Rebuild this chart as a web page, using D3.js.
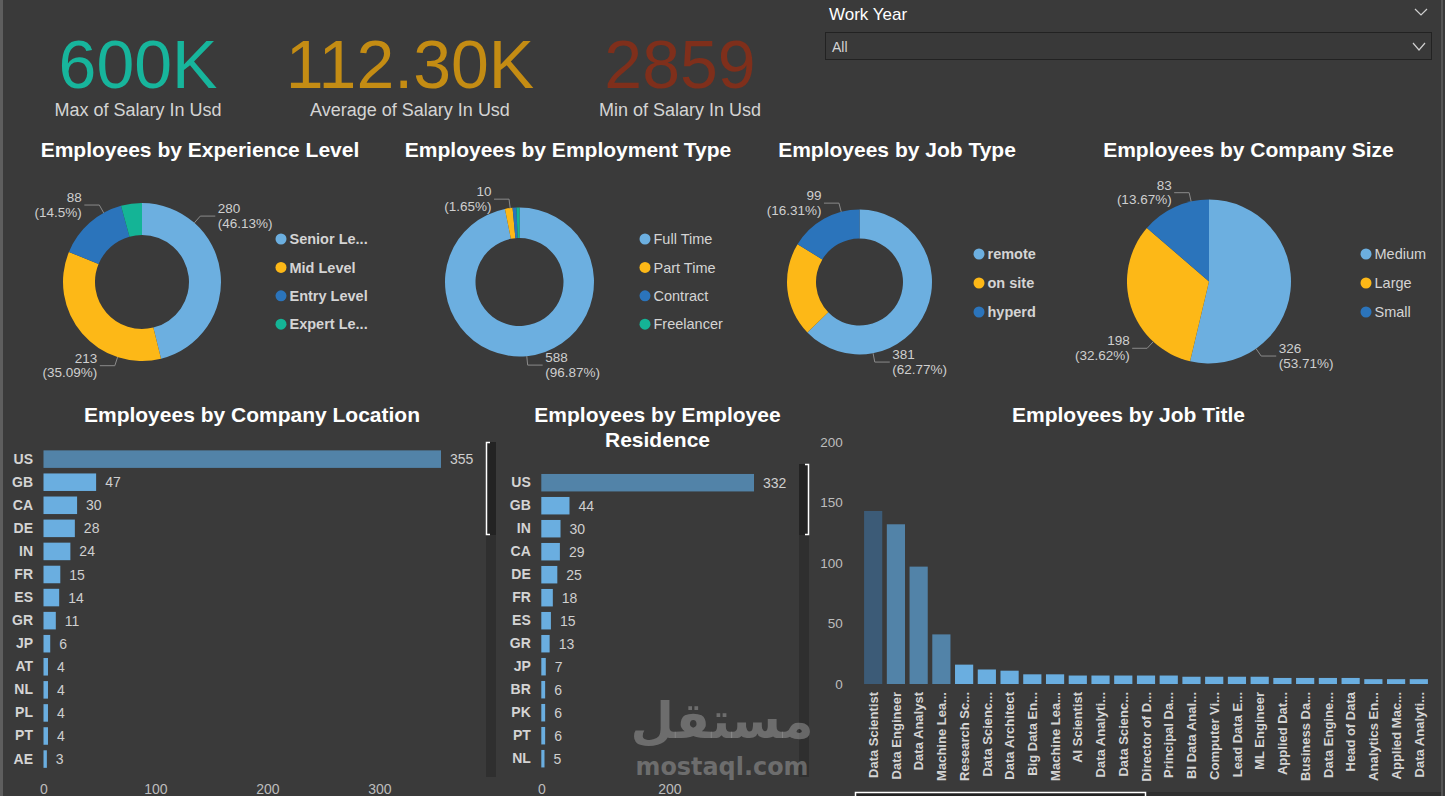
<!DOCTYPE html>
<html>
<head>
<meta charset="utf-8">
<script src="https://cdn.jsdelivr.net/npm/d3@7"></script>
<style>
  body { margin: 0; background: #3a3a3a; overflow: hidden; }
  svg { display: block; font-family: "Liberation Sans", Arial, sans-serif; }
</style>
</head>
<body>
<svg id="dash" width="1445" height="796"></svg>
<script>
// ---- data ----
const kpiValues = ["600K", "112.30K", "2859"];
const kpiLabels = ["Max of Salary In Usd", "Average of Salary In Usd", "Min of Salary In Usd"];

const expLevels = ["Senior Le...", "Mid Level", "Entry Level", "Expert Le..."];
const expCounts = [280, 213, 88, 26];

const empTypes = ["Full Time", "Part Time", "Contract", "Freelancer"];
const empCounts = [588, 10, 5, 4];

const jobTypes = ["remote", "on site", "hyperd"];
const jobTypeCounts = [381, 127, 99];

const companySizes = ["Medium", "Large", "Small"];
const companySizeCounts = [326, 198, 83];

const locCountries = ["US", "GB", "CA", "DE", "IN", "FR", "ES", "GR", "JP", "AT", "NL", "PL", "PT", "AE"];
const locCounts = [355, 47, 30, 28, 24, 15, 14, 11, 6, 4, 4, 4, 4, 3];
const locTicks = [0, 100, 200, 300];

const resCountries = ["US", "GB", "IN", "CA", "DE", "FR", "ES", "GR", "JP", "BR", "PK", "PT", "NL"];
const resCounts = [332, 44, 30, 29, 25, 18, 15, 13, 7, 6, 6, 6, 5];
const resTicks = [0, 200];

const jobTitles = ["Data Scientist", "Data Engineer", "Data Analyst", "Machine Lea...", "Research Sc...",
  "Data Scienc...", "Data Architect", "Big Data En...", "Machine Lea...", "AI Scientist",
  "Data Analyti...", "Data Scienc...", "Director of D...", "Principal Da...", "BI Data Anal...",
  "Computer Vi...", "Lead Data E...", "ML Engineer", "Applied Dat...", "Business Da...",
  "Data Engine...", "Head of Data", "Analytics En...", "Applied Mac...", "Data Analyti..."];
const jobTitleCounts = [143, 132, 97, 41, 16, 12, 11, 8, 8, 7, 7, 7, 7, 7, 6, 6, 6, 6, 5, 5, 5, 5, 4, 4, 4];
const jobTicks = [0, 50, 100, 150, 200];

// ---- style ----
const sliceColors = ["#6cafe0", "#fdb817", "#2b74bb", "#14b496"];
const barLight = "#6aaee0", barMid = "#5283a8", barDark = "#3c5b77";
const textGray = "#d4d4d4";

const svg = d3.select("#dash");

// frame
svg.append("rect").attr("x", 0).attr("y", 0).attr("width", 3).attr("height", 796).attr("fill", "#5e5e5e");
svg.append("rect").attr("x", 1441).attr("y", 0).attr("width", 2).attr("height", 796).attr("fill", "#555");

// ---- KPI cards ----
const kpiX = [138, 410, 680];
const kpiColors = ["#17b59c", "#c48c13", "#7f2f1b"];
kpiValues.forEach(function(v, i) {
  svg.append("text").attr("x", kpiX[i]).attr("y", 88).attr("text-anchor", "middle")
    .style("font-size", "68px").attr("fill", kpiColors[i]).text(v);
  svg.append("text").attr("x", kpiX[i]).attr("y", 116).attr("text-anchor", "middle")
    .style("font-size", "18px").attr("fill", textGray).text(kpiLabels[i]);
});

// ---- slicer ----
function chevron(x, y, w, h) {
  svg.append("path").attr("d", "M" + x + "," + y + "L" + (x + w / 2) + "," + (y + h) + "L" + (x + w) + "," + y)
    .attr("fill", "none").attr("stroke", "#cfcfcf").attr("stroke-width", 1.2);
}
svg.append("text").attr("x", 829).attr("y", 19.5).style("font-size", "17px").attr("fill", "#fff").text("Work Year");
chevron(1415, 9, 12, 6);
svg.append("rect").attr("x", 825.5).attr("y", 32.5).attr("width", 606).attr("height", 27)
  .attr("fill", "#393939").attr("stroke", "#222");
svg.append("text").attr("x", 832).attr("y", 52).style("font-size", "14px").attr("fill", textGray).text("All");
chevron(1413, 43, 12, 7);

// ---- titles ----
function title(txt, x, y) {
  svg.append("text").attr("x", x).attr("y", y).attr("text-anchor", "middle")
    .style("font-size", "21px").style("font-weight", "bold").attr("fill", "#fff").text(txt);
}

// ---- pies / donuts ----
const pies = [
  { title: "Employees by Experience Level", tx: 200, cx: 142, cy: 282, r: 79, inner: 47,
    cats: expLevels, vals: expCounts, labels: [[0, 41.5], [1, 198], [2, 331]],
    lx: 281, ly: 239, lstep: 28.4, bold: true },
  { title: "Employees by Employment Type", tx: 568, cx: 519.5, cy: 282, r: 74.5, inner: 44,
    cats: empTypes, vals: empCounts, labels: [[0, 174.4], [1, 352.8]],
    lx: 645, ly: 239, lstep: 28.4, bold: false },
  { title: "Employees by Job Type", tx: 897, cx: 859.5, cy: 282, r: 72.5, inner: 43.5,
    cats: jobTypes, vals: jobTypeCounts, labels: [[0, 169.2], [2, 345.4]],
    lx: 979, ly: 254, lstep: 29, bold: true },
  { title: "Employees by Company Size", tx: 1248.5, cx: 1209, cy: 281.5, r: 82, inner: 0,
    cats: companySizes, vals: companySizeCounts, labels: [[0, 145], [1, 222.8], [2, 347.4]],
    lx: 1366, ly: 254, lstep: 29, bold: false }
];

function pct(v, total) {
  return "(" + parseFloat((v / total * 100).toFixed(2)) + "%)";
}

pies.forEach(function(p) {
  title(p.title, p.tx, 157);
  const total = d3.sum(p.vals);
  const arcs = d3.pie().sort(null).value(function(d) { return d; })(p.vals);
  const arc = d3.arc().innerRadius(p.inner).outerRadius(p.r);
  const g = svg.append("g").attr("transform", "translate(" + p.cx + "," + p.cy + ")");
  g.selectAll("path").data(arcs).enter().append("path")
    .attr("d", arc)
    .attr("fill", function(d, i) { return sliceColors[i]; });

  p.labels.forEach(function(l) {
    const i = l[0], a = l[1] * Math.PI / 180;
    const sx = Math.sin(a), sy = -Math.cos(a);
    const p0 = [p.r * sx, p.r * sy], p1 = [(p.r + 9) * sx, (p.r + 9) * sy];
    const dir = sx >= 0 ? 1 : -1;
    const p2 = [p1[0] + dir * 15, p1[1]];
    g.append("path").attr("d", "M" + p0 + "L" + p1 + "L" + p2)
      .attr("fill", "none").attr("stroke", "#8a8a8a").attr("stroke-width", 1);
    const t = g.append("text").attr("text-anchor", dir > 0 ? "start" : "end")
      .style("font-size", "13.5px").attr("fill", "#cfcfcf");
    t.append("tspan").attr("x", p2[0] + dir * 2.5).attr("y", p2[1] - 3).text(p.vals[i]);
    t.append("tspan").attr("x", p2[0] + dir * 2.5).attr("y", p2[1] + 11.5).text(pct(p.vals[i], total));
  });

  p.cats.forEach(function(c, i) {
    const y = p.ly + i * p.lstep;
    svg.append("circle").attr("cx", p.lx).attr("cy", y).attr("r", 5.5).attr("fill", sliceColors[i]);
    svg.append("text").attr("x", p.lx + 8.5).attr("y", y).attr("dy", "0.36em")
      .style("font-size", "14.5px").style("font-weight", p.bold ? "bold" : "normal")
      .attr("fill", textGray).text(c);
  });
});

// ---- horizontal bar charts ----
function hbar(o) {
  const y = d3.scaleBand().domain(o.cats).range([o.y0, o.y1]).paddingInner(0.24).paddingOuter(0.12);
  const x = d3.scaleLinear().domain([0, o.vmax]).range([o.x0, o.x1]);
  const color = d3.scaleThreshold().domain([100]).range([barLight, barMid]);
  const g = svg.append("g");
  g.selectAll("rect").data(o.vals).enter().append("rect")
    .attr("x", x(0)).attr("y", function(d, i) { return y(o.cats[i]); })
    .attr("width", function(d) { return x(d) - x(0); })
    .attr("height", y.bandwidth())
    .attr("fill", function(d) { return color(d); });
  g.selectAll(".val").data(o.vals).enter().append("text")
    .attr("x", function(d) { return x(d) + 9; })
    .attr("y", function(d, i) { return y(o.cats[i]) + y.bandwidth() / 2; })
    .attr("dy", "0.36em").style("font-size", "14px").attr("fill", "#cfcfcf")
    .text(function(d) { return d; });

  const ay = svg.append("g").attr("transform", "translate(" + x(0) + ",0)")
    .call(d3.axisLeft(y).tickSize(0).tickPadding(10.5));
  ay.select(".domain").remove();
  ay.selectAll("text").style("font-size", "14px").style("font-weight", "bold")
    .style("font-family", "Liberation Sans, Arial, sans-serif").attr("fill", textGray);

  const ax = svg.append("g").attr("transform", "translate(0,784)")
    .call(d3.axisBottom(x).tickValues(o.ticks).tickSize(0).tickPadding(0));
  ax.select(".domain").remove();
  ax.selectAll("text").style("font-size", "14px")
    .style("font-family", "Liberation Sans, Arial, sans-serif").attr("fill", "#bdbdbd");
}

title("Employees by Company Location", 252, 422);
hbar({ cats: locCountries, vals: locCounts, ticks: locTicks, vmax: 355, x0: 43.5, x1: 441, y0: 447.6, y1: 770.6 });

svg.append("text").attr("text-anchor", "middle").style("font-size", "21px").style("font-weight", "bold")
  .attr("fill", "#fff")
  .selectAll("tspan").data(["Employees by Employee", "Residence"]).enter().append("tspan")
  .attr("x", 657.5).attr("y", function(d, i) { return 422 + i * 24.5; }).text(function(d) { return d; });
hbar({ cats: resCountries, vals: resCounts, ticks: resTicks, vmax: 332, x0: 541.3, x1: 754, y0: 471.2, y1: 770.2 });

// scrollbars
function vscroll(x, yTop, yThumb, side) {
  svg.append("rect").attr("x", x).attr("y", yTop).attr("width", 10).attr("height", 777 - yTop).attr("fill", "#2f2f2f");
  svg.append("rect").attr("x", x).attr("y", yTop).attr("width", 10).attr("height", yThumb - yTop).attr("fill", "#232323");
  const xa = side === "left" ? x + 0.5 : x + 9.5;
  const xb = side === "left" ? x + 4 : x + 6;
  svg.append("path").attr("d", "M" + xb + "," + (yTop + 0.5) + "H" + xa + "V" + (yThumb - 0.5) + "H" + xb)
    .attr("fill", "none").attr("stroke", "#fff").attr("stroke-width", 1.5);
}
vscroll(486, 442, 535, "left");
vscroll(799, 464, 535, "right");

// ---- job title column chart ----
title("Employees by Job Title", 1128.5, 422);
(function() {
  const x = d3.scaleBand().domain(d3.range(jobTitles.length)).range([861.8, 1430.2]).paddingInner(0.2).paddingOuter(0.1);
  const y = d3.scaleLinear().domain([0, 200]).range([684, 442]);
  const color = d3.scaleThreshold().domain([30, 140]).range([barLight, barMid, barDark]);
  svg.append("g").selectAll("rect").data(jobTitleCounts).enter().append("rect")
    .attr("x", function(d, i) { return x(i); })
    .attr("y", function(d) { return y(d); })
    .attr("width", x.bandwidth())
    .attr("height", function(d) { return y(0) - y(d); })
    .attr("fill", function(d) { return color(d); });

  const ay = svg.append("g").attr("transform", "translate(861.8,0)")
    .call(d3.axisLeft(y).tickValues(jobTicks).tickSize(0).tickPadding(19));
  ay.select(".domain").remove();
  ay.selectAll("text").style("font-size", "13.5px")
    .style("font-family", "Liberation Sans, Arial, sans-serif").attr("fill", "#bdbdbd");

  svg.append("g").selectAll("text").data(jobTitles).enter().append("text")
    .attr("transform", function(d, i) { return "translate(" + (x(i) + x.bandwidth() / 2) + ",692) rotate(-90)"; })
    .attr("text-anchor", "end").attr("dy", "0.36em")
    .style("font-size", "13px").style("font-weight", "bold").attr("fill", textGray)
    .text(function(d) { return d; });
})();

// horizontal scrollbar
svg.append("rect").attr("x", 855).attr("y", 792).attr("width", 586).attr("height", 4).attr("fill", "#2f2f2f");
svg.append("rect").attr("x", 855.5).attr("y", 792.5).attr("width", 290).attr("height", 6)
  .attr("fill", "#232323").attr("stroke", "#fff").attr("stroke-width", 1.5);

// watermark
svg.append("text").attr("x", 722).attr("y", 738).attr("text-anchor", "middle")
  .style("font-family", "DejaVu Sans").style("font-weight", "bold").style("font-size", "50px")
  .attr("fill", "rgba(160,160,160,0.5)").text("مستقل");
svg.append("text").attr("x", 722).attr("y", 775).attr("text-anchor", "middle")
  .attr("textLength", 173).attr("lengthAdjust", "spacingAndGlyphs")
  .style("font-family", "DejaVu Sans").style("font-weight", "bold").style("font-size", "24px")
  .attr("fill", "rgba(160,160,160,0.5)").text("mostaql.com");
</script>
</body>
</html>
